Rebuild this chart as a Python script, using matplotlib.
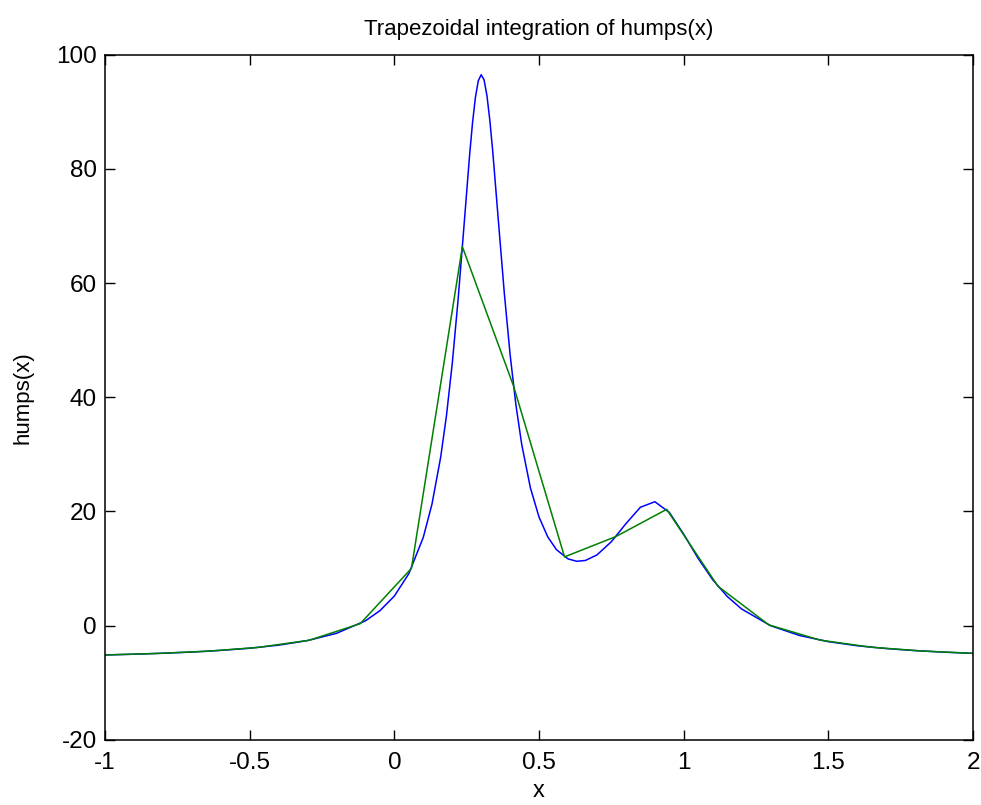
import matplotlib
matplotlib.use('Agg')
import matplotlib.pyplot as plt

# humps(x) (blue curve)
x_fine = [-1.0, -0.9, -0.8, -0.7, -0.6, -0.5, -0.4, -0.3, -0.2, -0.1, -0.05,
          0.0, 0.05, 0.1, 0.13, 0.16, 0.18, 0.2, 0.22, 0.24, 0.26, 0.27, 0.28, 0.29,
          0.3, 0.31, 0.32, 0.33, 0.34, 0.36, 0.38, 0.4, 0.42, 0.44, 0.47, 0.5, 0.53,
          0.56, 0.6, 0.63, 0.66, 0.7, 0.75, 0.8, 0.85, 0.9, 0.95, 1.0, 1.05,
          1.1, 1.15, 1.2, 1.3, 1.4, 1.5, 1.6, 1.7, 1.8, 1.9, 2.0]
y_fine = [-5.14, -5.01, -4.84, -4.63, -4.34, -3.96, -3.42, -2.62, -1.35, 0.84, 2.61,
          5.18, 9.10, 15.47, 21.29, 29.49, 36.77, 45.89, 56.97, 69.63, 82.43, 88.02, 92.51, 95.44,
          96.5, 95.59, 92.81, 88.47, 83.04, 70.55, 58.20, 47.45, 38.68, 31.76, 24.15, 19.0, 15.55,
          13.31, 11.69, 11.27, 11.41, 12.38, 14.71, 17.85, 20.73, 21.70, 19.84, 16.0, 11.75,
          8.04, 5.12, 2.91, -0.01, -1.73, -2.81, -3.53, -4.02, -4.38, -4.65, -4.86]

# trapezoid nodes (green polyline)
x_trap = [-1.0, -0.824, -0.647, -0.471, -0.294, -0.118, 0.059, 0.235, 0.412,
          0.588, 0.765, 0.941, 1.118, 1.294, 1.471, 1.647, 1.824, 2.0]
y_trap = [-5.14, -4.88, -4.49, -3.82, -2.56, 0.34, 10.02, 66.37, 41.95,
          12.04, 15.59, 20.37, 6.90, 0.13, -2.54, -3.78, -4.45, -4.86]

plt.rcParams['font.family'] = ['Liberation Sans', 'DejaVu Sans']
plt.rcParams['axes.unicode_minus'] = False

fig = plt.figure(figsize=(9.81, 8.05), dpi=100)
ax = fig.add_axes([0.107, 0.081, 0.885, 0.851])

ax.plot(x_fine, y_fine, color='#0000ff', linewidth=1.1)
ax.plot(x_trap, y_trap, color='#008000', linewidth=1.1)

ax.set_xlim(-1, 2)
ax.set_ylim(-20, 100)
ax.set_xticks([-1, -0.5, 0, 0.5, 1, 1.5, 2])
ax.set_xticklabels(['-1', '-0.5', '0', '0.5', '1', '1.5', '2'])
ax.set_yticks([-20, 0, 20, 40, 60, 80, 100])

ax.tick_params(direction='in', length=7, width=1, top=True, right=True,
               labelsize=17.5)
ax.tick_params(axis='x', pad=9)
ax.tick_params(axis='y', pad=6)
for sp in ax.spines.values():
    sp.set_linewidth(1.1)

ax.set_title('Trapezoidal integration of humps(x)', fontsize=16, pad=14)
ax.set_xlabel('x', fontsize=17, labelpad=4)
ax.set_ylabel('humps(x)', fontsize=16, labelpad=16)

fig.savefig('out.png', dpi=100)
